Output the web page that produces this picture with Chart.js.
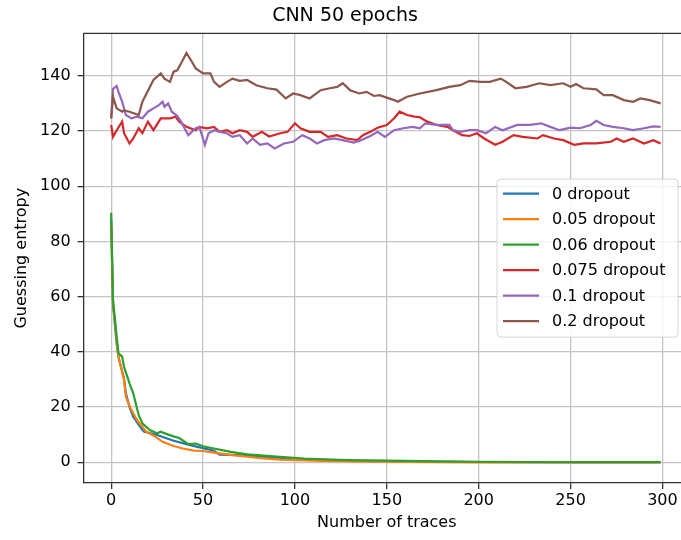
<!DOCTYPE html>
<html>
<head>
<meta charset="utf-8">
<title>CNN 50 epochs</title>
<script src="https://cdn.jsdelivr.net/npm/chart.js@4.4.0/dist/chart.umd.min.js"></script>
<style>
  html, body { margin: 0; padding: 0; background: #fff; overflow: hidden; }
  canvas { display: block; }
</style>
</head>
<body>
<canvas id="geChart" width="700" height="540"></canvas>
<script>
// values, [number of traces, guessing entropy]
var drop0 = [[0,88],[1,57],[3,43],[4,38],[7,30.5],[8,25],[10,20],[12,16.5],[17,11.7],[18,11.1],[25,9.9],[34,7.8],[41,6.6],[47,5.6],[56,4.2],[59,2.8],[74,2.5],[92,1.6],[110,0.9],[130,0.5],[160,0.3],[200,0.1],[250,0],[299,0]];
var drop005 = [[0,86],[1,58],[3,44],[4,38.2],[7,29.8],[8,23.8],[9,22],[11,19],[14,15.3],[17,12.9],[19,11.1],[24,9.3],[28,7.4],[34,5.9],[39,5],[45,4.2],[50,4.1],[56,3.5],[65,2.7],[74,2],[83,1.4],[92,1],[110,0.6],[130,0.3],[160,0.1],[200,0],[250,0],[299,0]];
var drop006 = [[0,90.4],[1,58.8],[3,45.5],[4,39.5],[6,38.3],[7,34.6],[10,28.6],[12,25],[15,17.1],[17,14.1],[21,11.7],[25,10.5],[27,11.1],[30,10.3],[34,9.4],[37,8.8],[42,6.6],[46,6.8],[50,5.8],[56,5],[65,3.8],[74,2.9],[83,2.4],[92,2],[105,1.3],[128,0.8],[150,0.6],[177,0.3],[199,0.2],[230,0.1],[260,0.1],[299,0.1]];
var drop0075 = [[0,122.2],[1,117.9],[3,120.3],[6,123.4],[7,119.2],[10,115.5],[12,117.3],[15,121],[17,119.2],[20,123.4],[23,120.3],[27,124.6],[32,124.6],[35,125.2],[37,123.4],[41,121.5],[46,120.3],[48,121.5],[52,121],[56,121.5],[59,119.7],[63,120.3],[66,119.2],[70,120.3],[74,119.7],[77,117.9],[82,119.7],[86,118],[92,119.2],[96,119.7],[100,122.8],[103,121],[108,119.7],[114,119.7],[118,117.9],[123,118.5],[128,117.3],[134,116.7],[137,118.5],[141,119.7],[145,121.2],[150,122.2],[154,124.6],[157,127],[161,125.8],[165,125.2],[168,125],[172,123.4],[177,122.2],[183,121.5],[186,120.3],[191,118.5],[195,118.2],[199,119.2],[203,117.3],[209,115],[213,116.1],[219,118.5],[224,117.9],[232,117.3],[235,118.5],[241,117.3],[246,116.7],[252,115],[257,115.5],[264,115.5],[272,116.1],[275,117.3],[279,116.1],[284,117.3],[290,115.5],[295,116.7],[299,115.5]];
var drop01 = [[0,124.6],[1,135.3],[3,136.3],[4,134.2],[6,130.6],[8,125.8],[11,124.6],[14,125.2],[17,124.6],[20,127],[23,128.2],[26,129.4],[28,130.6],[29,128.8],[31,130],[33,127],[36,125.4],[38,123.4],[42,118.5],[46,121],[48,121.5],[51,115],[53,119.2],[56,120.3],[59,119.7],[63,119.2],[66,117.9],[70,118.5],[74,115.5],[77,117.3],[81,115],[85,115.5],[89,113.7],[94,115.5],[99,116.1],[104,118.5],[108,117.3],[112,115.5],[116,116.7],[121,117.3],[126,116.7],[132,115.8],[136,116.7],[141,118.2],[145,119.7],[149,117.9],[154,120.3],[159,121],[164,121.5],[168,121],[171,122.8],[177,122.2],[184,122.2],[186,120.3],[190,119.7],[195,120.3],[199,120.3],[204,119.2],[209,121.5],[213,120.3],[221,122.2],[228,122.2],[234,122.8],[239,121.5],[244,120.3],[250,121.2],[255,121],[261,122.2],[264,123.7],[268,122.2],[273,121.5],[279,121],[284,120.3],[290,121],[295,121.7],[299,121.5]];
var drop02 = [[0,124.5],[1,132.4],[3,128.2],[6,127],[7,127.5],[10,127],[15,125.8],[17,130.6],[23,138.5],[27,140.9],[29,139],[32,137.8],[34,141.5],[36,142],[39,145.7],[41,148.3],[44,145],[46,142.7],[50,140.9],[54,140.9],[56,137.8],[59,136],[63,137.8],[66,139],[70,138.2],[74,138.5],[79,136.6],[85,135.5],[90,135],[95,131.8],[99,133.6],[103,133],[108,131.8],[114,134.8],[119,135.5],[123,136],[126,137.3],[130,134.8],[135,133.6],[139,134.2],[143,132.7],[146,133],[154,131.2],[156,130.6],[161,132.4],[168,133.6],[177,134.8],[184,136],[190,136.6],[195,138.2],[201,137.8],[206,137.8],[212,139],[215,137.8],[220,135.5],[226,136],[233,137.3],[239,136.6],[246,137.3],[250,136],[253,137],[257,135.5],[264,135.1],[268,133],[273,133],[279,131.2],[284,130.6],[288,131.8],[293,131.2],[299,130]];

var seriesLabels = ['0 dropout', '0.05 dropout', '0.06 dropout', '0.075 dropout', '0.1 dropout', '0.2 dropout'];
var seriesData = [drop0, drop005, drop006, drop0075, drop01, drop02];
var colors = ['#1f77b4', '#ff7f0e', '#2ca02c', '#d62728', '#9467bd', '#8c564b'];

var xTicks = [0, 50, 100, 150, 200, 250, 300];
var yTicks = [0, 20, 40, 60, 80, 100, 120, 140];

var FONT = "'DejaVu Sans', sans-serif";

var datasets = [];
for (var i = 0; i < seriesData.length; i++) {
    datasets.push({
        label: seriesLabels[i],
        data: seriesData[i].map(function(p) { return {x: p[0], y: p[1]}; }),
        borderColor: colors[i],
        backgroundColor: colors[i],
        borderWidth: 2.2,
        pointRadius: 0,
        tension: 0,
        fill: false,
        order: seriesData.length - i   // later series drawn on top, like matplotlib
    });
}

// top spine + legend box in the center right of the plot
var framePlugin = {
    id: 'framePlugin',
    afterDatasetsDraw: function(chart) {
        var ctx = chart.ctx, a = chart.chartArea;
        ctx.save();
        ctx.strokeStyle = '#333';
        ctx.lineWidth = 1.3;
        ctx.beginPath();
        ctx.moveTo(a.left, a.top);
        ctx.lineTo(a.right, a.top);
        ctx.stroke();

        var w = 181, h = 158;
        var bx = a.right - 12 - w;
        var by = (a.top + a.bottom) / 2 - h / 2;
        ctx.globalAlpha = 0.8;
        ctx.fillStyle = '#fff';
        ctx.beginPath();
        ctx.roundRect(bx, by, w, h, 4);
        ctx.fill();
        ctx.globalAlpha = 1;
        ctx.strokeStyle = '#d6d6d6';
        ctx.lineWidth = 1;
        ctx.stroke();

        ctx.font = '16px ' + FONT;
        ctx.textBaseline = 'middle';
        ctx.textAlign = 'left';
        for (var i = 0; i < seriesLabels.length; i++) {
            var ry = by + 14.5 + i * 25.5;
            ctx.strokeStyle = colors[i];
            ctx.lineWidth = 2.2;
            ctx.beginPath();
            ctx.moveTo(bx + 6, ry);
            ctx.lineTo(bx + 42, ry);
            ctx.stroke();
            ctx.fillStyle = '#000';
            ctx.fillText(seriesLabels[i], bx + 55, ry + 1);
        }
        ctx.restore();
    }
};

var ctx = document.getElementById('geChart').getContext('2d');
var chart = new Chart(ctx, {
    type: 'line',
    data: { datasets: datasets },
    plugins: [framePlugin],
    options: {
        responsive: false,
        animation: false,
        devicePixelRatio: 1,
        // canvas is wider than the window: the right edge of the axes is cut off, as in the reference
        layout: { padding: { left: 0, right: 10, top: 0, bottom: 0 } },
        plugins: {
            legend: { display: false },
            tooltip: { enabled: false },
            title: {
                display: true,
                text: 'CNN 50 epochs',
                color: '#000',
                font: { family: FONT, size: 19, weight: 'normal' },
                padding: { top: 4.5, bottom: 6 }
            }
        },
        scales: {
            x: {
                type: 'linear',
                min: -15,
                max: 315,
                afterBuildTicks: function(scale) {
                    scale.ticks = xTicks.map(function(v) { return {value: v}; });
                },
                afterFit: function(scale) { scale.height = 57; },
                grid: { color: '#c4c4c4', lineWidth: 1.3, tickColor: '#333', tickLength: 6 },
                border: { display: true, color: '#333', width: 1.3 },
                ticks: {
                    color: '#000',
                    font: { family: FONT, size: 16 },
                    padding: 2,
                    maxRotation: 0,
                    includeBounds: false
                },
                title: {
                    display: true,
                    text: 'Number of traces',
                    color: '#000',
                    font: { family: FONT, size: 16 },
                    padding: { top: 0, bottom: 7.5 }
                }
            },
            y: {
                type: 'linear',
                min: -7.5,
                max: 155.4,
                afterBuildTicks: function(scale) {
                    scale.ticks = yTicks.map(function(v) { return {value: v}; });
                },
                afterFit: function(scale) { scale.width = 83.6; },
                grid: { color: '#c4c4c4', lineWidth: 1.3, tickColor: '#333', tickLength: 6 },
                border: { display: true, color: '#333', width: 1.3 },
                ticks: {
                    color: '#000',
                    font: { family: FONT, size: 16 },
                    padding: 7,
                    includeBounds: false
                },
                title: {
                    display: true,
                    text: 'Guessing entropy',
                    color: '#000',
                    font: { family: FONT, size: 16 },
                    padding: { top: 12.5, bottom: 0 }
                }
            }
        }
    }
});
</script>
</body>
</html>
